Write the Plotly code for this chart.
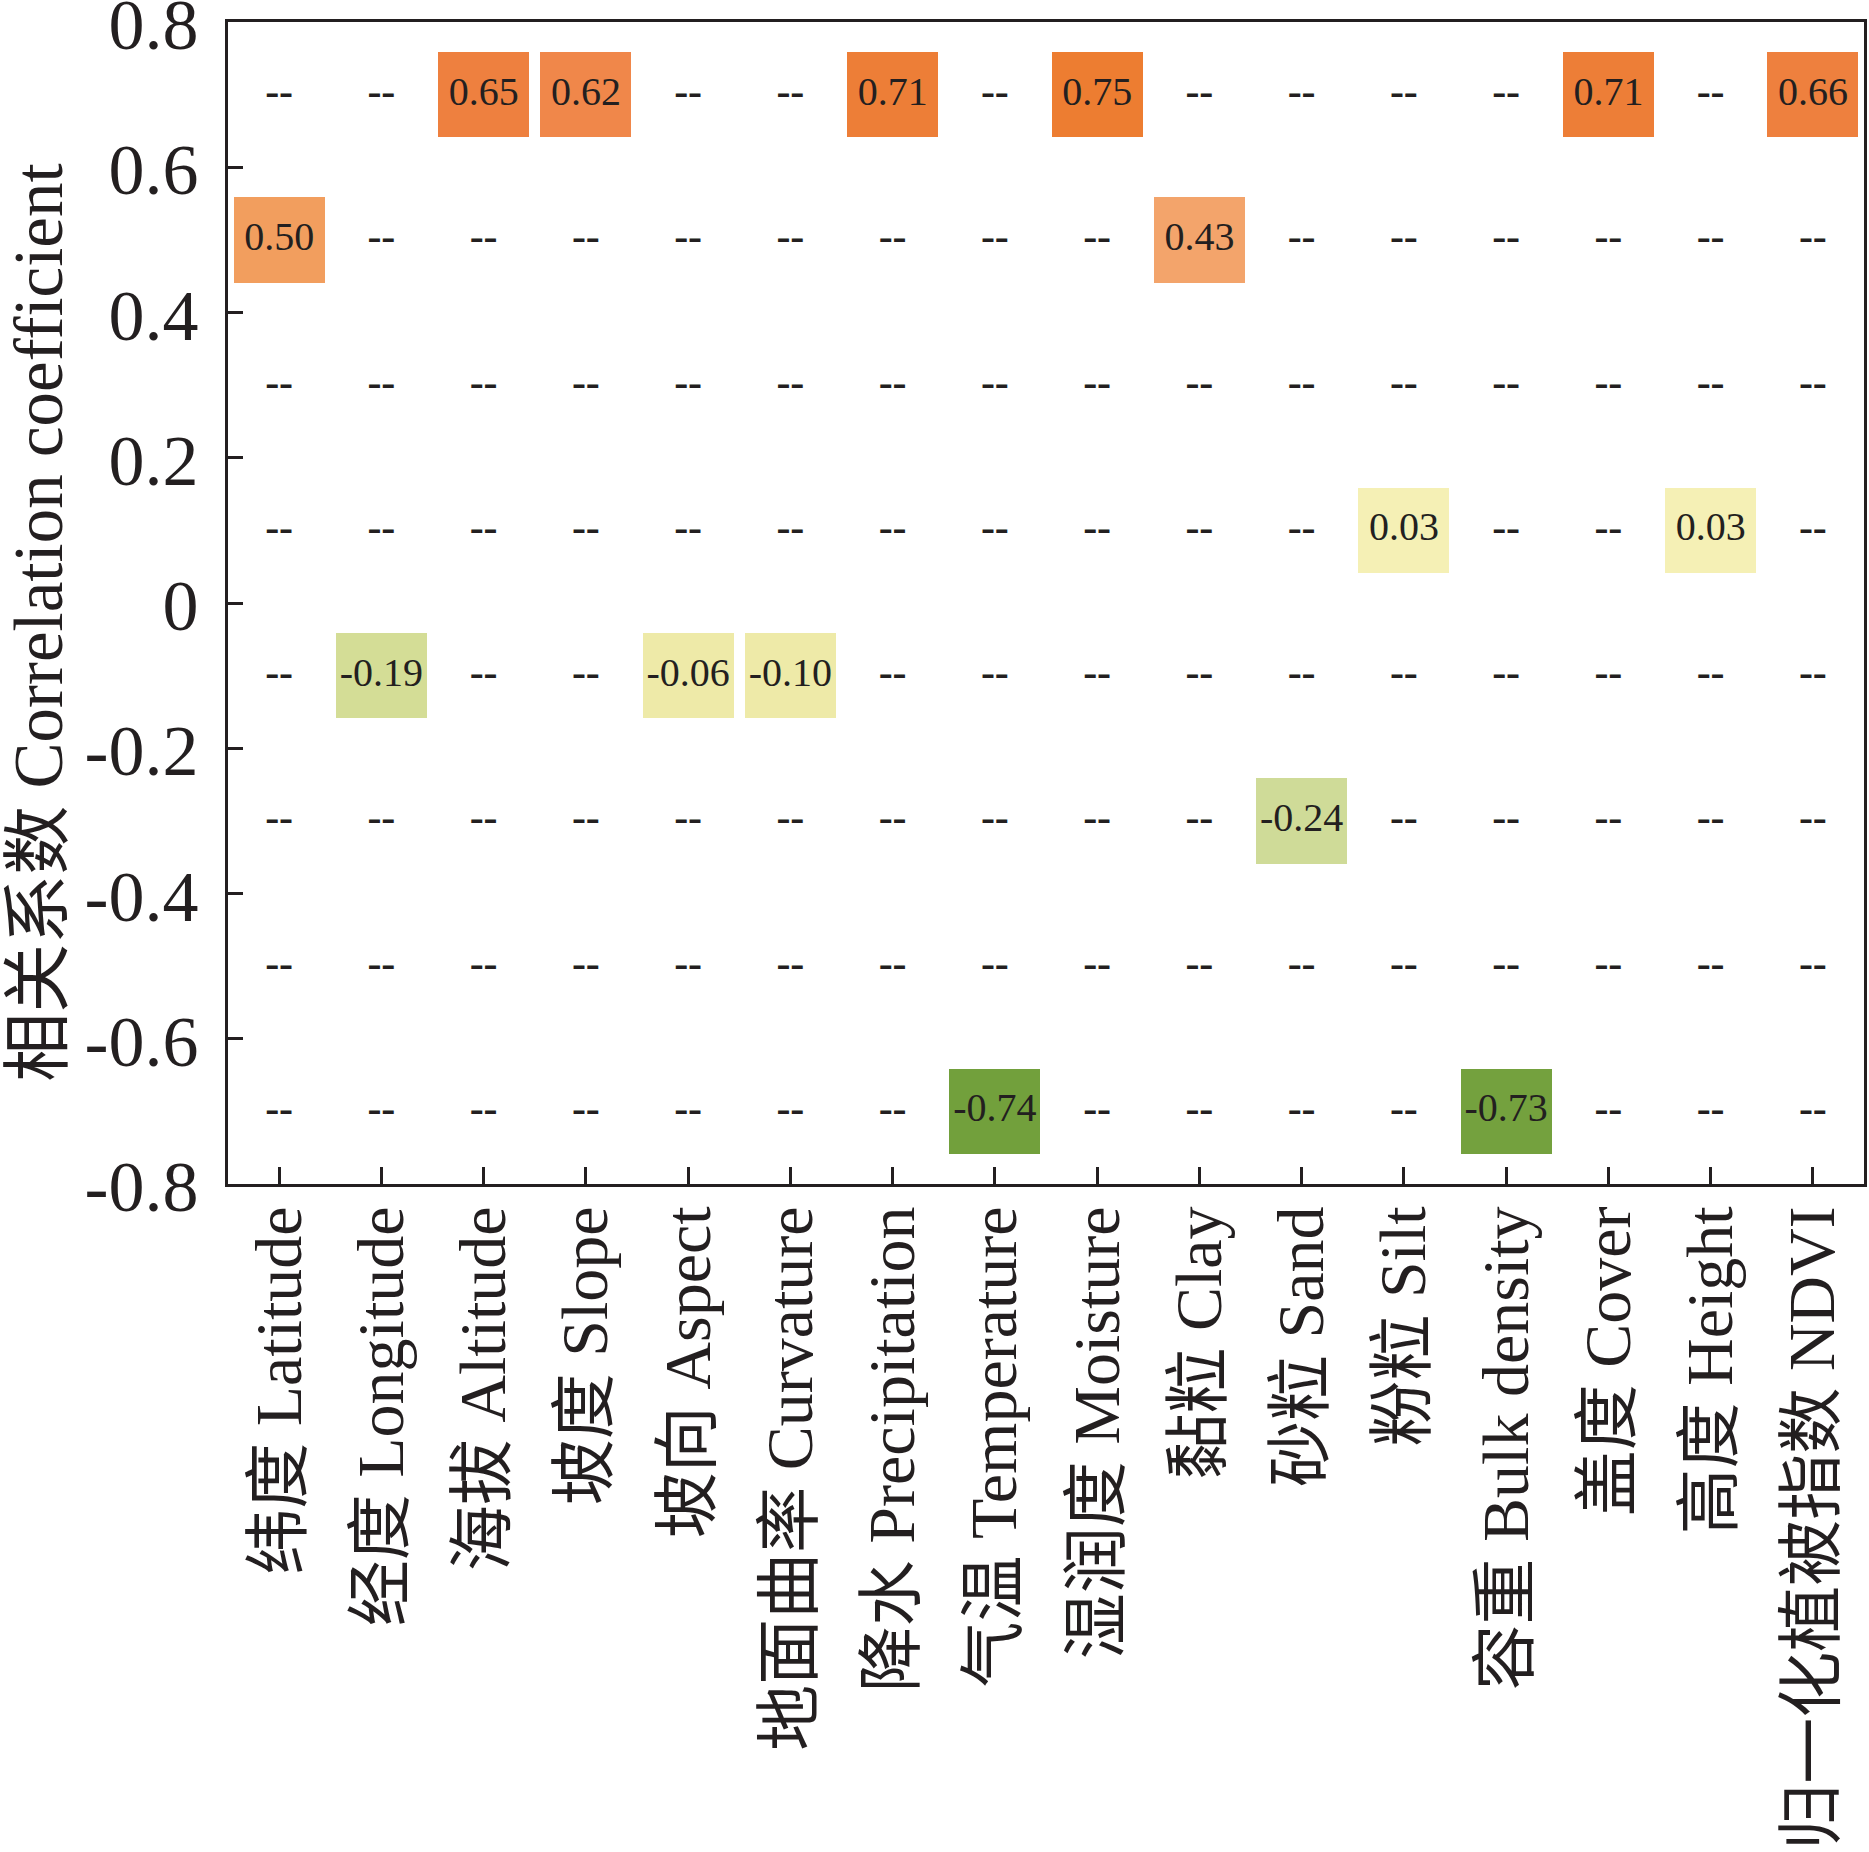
import numpy as np
import plotly.graph_objects as go

# ---- data ----
categories = ["纬度 Latitude", "经度 Longitude", "海拔 Altitude", "坡度 Slope",
              "坡向 Aspect", "地面曲率 Curvature", "降水 Precipitation", "气温 Temperature",
              "湿润度 Moisture", "黏粒 Clay", "砂粒 Sand", "粉粒 Silt",
              "容重 Bulk density", "盖度 Cover", "高度 Height", "归一化植被指数 NDVI"]
values = [0.50, -0.19, 0.65, 0.62, -0.06, -0.10, 0.71, -0.74,
          0.75, 0.43, -0.24, 0.03, -0.73, 0.71, 0.03, 0.66]
y_ticks = [0.8, 0.6, 0.4, 0.2, 0.0, -0.2, -0.4, -0.6, -0.8]
y_ticktext = ["0.8", "0.6", "0.4", "0.2", "0", "-0.2", "-0.4", "-0.6", "-0.8"]
bin_edges = [-0.8, -0.6, -0.4, -0.2, 0.0, 0.2, 0.4, 0.6, 0.8]
y_title = "相关系数 Correlation coefficient"

# ---- style ----
FONT = "Liberation Serif, 'Times New Roman', 'Noto Sans CJK SC', serif"
TXT = "#231F20"
color_stops = [(-0.74, "#72A03C"), (-0.24, "#CFDB98"), (-0.19, "#D4DD96"),
               (-0.10, "#EEEAA8"), (-0.06, "#EEEAA8"), (0.03, "#F5F0B5"),
               (0.43, "#F3A46B"), (0.50, "#F29E5E"), (0.62, "#F0874A"),
               (0.65, "#EE803F"), (0.75, "#ED7D31")]
BOX_W = 0.89
BOX_H_FRAC = 0.59

vmin, vmax = color_stops[0][0], color_stops[-1][0]
colorscale = [[(v - vmin) / (vmax - vmin), c] for v, c in color_stops]

edges = np.array(bin_edges)
centers = (edges[:-1] + edges[1:]) / 2
bin_w = edges[1] - edges[0]
xs = np.arange(len(categories))
vals = np.array(values)
bin_idx = np.clip(np.floor((vals - edges[0]) / bin_w).astype(int), 0, len(centers) - 1)
val_centers = centers[bin_idx]
box_h = bin_w * BOX_H_FRAC

fig = go.Figure()
fig.add_trace(go.Bar(
    x=xs, y=[box_h] * len(xs), base=val_centers - box_h / 2, width=BOX_W,
    marker=dict(color=vals, colorscale=colorscale, cmin=vmin, cmax=vmax,
                line=dict(width=0)),
    showlegend=False, hoverinfo="skip"))

fig.add_trace(go.Scatter(
    x=xs, y=val_centers, mode="text", text=[f"{v:.2f}" for v in vals],
    textfont=dict(family=FONT, size=40, color=TXT), textposition="middle center",
    showlegend=False, hoverinfo="skip"))

dx, dy = [], []
for i, bi in enumerate(bin_idx):
    for j, c in enumerate(centers):
        if j != bi:
            dx.append(i)
            dy.append(c)
fig.add_trace(go.Scatter(
    x=dx, y=dy, mode="text", text=["<b>--</b>"] * len(dx),
    textfont=dict(family=FONT, size=42, color=TXT), textposition="middle center",
    showlegend=False, hoverinfo="skip"))

fig.update_layout(
    width=1869, height=1852,
    margin=dict(l=228, r=5, t=22, b=668, autoexpand=False),
    paper_bgcolor="white", plot_bgcolor="white",
    font=dict(family=FONT, color=TXT),
    bargap=0,
    annotations=[dict(text=y_title, textangle=-90, xref="paper", yref="paper",
                      x=-0.1155, y=0.483, xanchor="center", yanchor="middle",
                      showarrow=False, font=dict(family=FONT, size=69, color=TXT))],
)
fig.update_xaxes(
    range=[-0.5, len(categories) - 0.5], tickmode="array", tickvals=xs,
    ticktext=categories, tickangle=-90, tickfont=dict(family=FONT, size=66, color=TXT),
    ticks="inside", ticklen=17, tickwidth=3, tickcolor=TXT,
    showline=True, linecolor=TXT, linewidth=3, mirror=True, automargin=False,
    showgrid=False, zeroline=False, ticklabelstandoff=-7, ticklabeloverflow="allow")
fig.update_yaxes(
    range=[bin_edges[0], bin_edges[-1]], tickmode="array", tickvals=y_ticks,
    ticktext=y_ticktext, tickfont=dict(family=FONT, size=72, color=TXT),
    ticks="inside", ticklen=15, tickwidth=3, tickcolor=TXT,
    showline=True, linecolor=TXT, linewidth=3, mirror=True, automargin=False,
    showgrid=False, zeroline=False, ticklabelstandoff=12, ticklabelshift=2,
    ticklabeloverflow="allow")

fig.write_html("out.html", config={"displayModeBar": False},
               post_script="document.body.style.margin='0';document.body.style.overflow='hidden';")
